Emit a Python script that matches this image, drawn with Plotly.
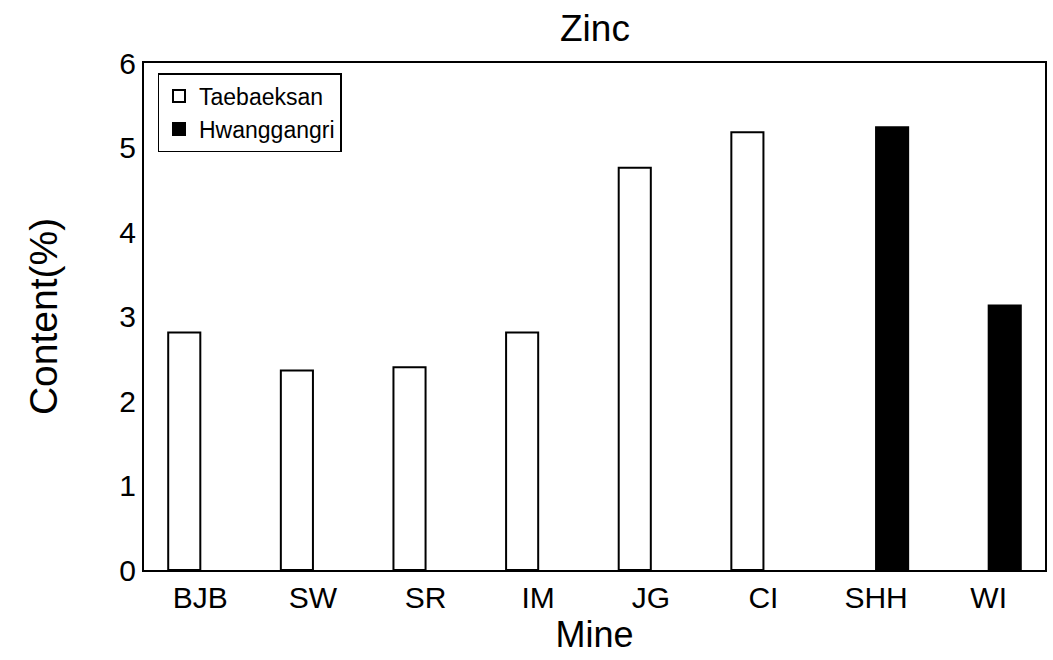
import plotly.graph_objects as go

mines = ["BJB", "SW", "SR", "IM", "JG", "CI", "SHH", "WI"]
taebaeksan = [2.81, 2.36, 2.40, 2.81, 4.76, 5.18, None, None]
hwanggangri = [None, None, None, None, None, None, 5.24, 3.13]

FONT = "Liberation Sans, Arial, sans-serif"

fig = go.Figure()
fig.add_trace(go.Bar(
    x=mines, y=taebaeksan, name="Taebaeksan",
    marker=dict(color="white", line=dict(color="black", width=2)),
))
fig.add_trace(go.Bar(
    x=mines, y=hwanggangri, name="Hwanggangri",
    marker=dict(color="black", line=dict(color="black", width=2)),
))

fig.update_layout(
    width=1053, height=660,
    barmode="group", bargap=0.43, bargroupgap=0,
    paper_bgcolor="white", plot_bgcolor="white",
    margin=dict(l=144, r=6, t=63, b=90),
    font=dict(family=FONT, color="black"),
    title=dict(text="Zinc", x=0.565, xanchor="center", y=0.958, yanchor="middle",
               font=dict(size=37, family=FONT, color="black")),
    showlegend=True,
    legend=dict(x=0.015, y=0.98, xanchor="left", yanchor="top",
                bordercolor="black", borderwidth=1.5, bgcolor="white",
                font=dict(size=23, family=FONT, color="black"),
                tracegroupgap=0, itemwidth=30),
    xaxis=dict(
        title=dict(text="Mine", font=dict(size=36, family=FONT), standoff=8),
        tickfont=dict(size=30, family=FONT),
        range=[-0.5, 7.5], showline=True, linecolor="black", linewidth=2,
        mirror=True, ticks="", showgrid=False, zeroline=False,
    ),
    yaxis=dict(
        title=dict(text="Content(%)", font=dict(size=39, family=FONT), standoff=50),
        tickfont=dict(size=30, family=FONT),
        range=[0, 6], dtick=1, showline=True, linecolor="black", linewidth=2,
        mirror=True, ticks="", showgrid=False, zeroline=False,
    ),
)

fig.write_html("out.html")
